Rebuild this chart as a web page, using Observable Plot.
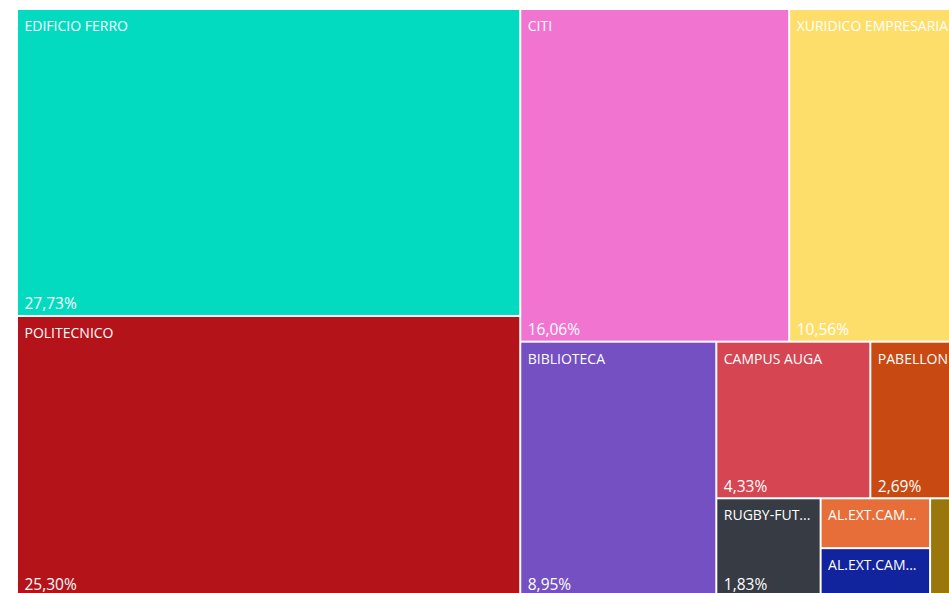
<!DOCTYPE html>
<html><head><meta charset="utf-8">
<script src="https://cdn.jsdelivr.net/npm/d3@7"></script>
<script src="https://cdn.jsdelivr.net/npm/@observablehq/plot@0.6"></script>
<style>
html,body{margin:0;padding:0;background:#fff;overflow:hidden;width:949px;height:593px}
#chart svg{overflow:hidden;display:block}
</style></head><body><div id="chart"></div>
<script>
// Tiles (share of total, %)
const names = ["EDIFICIO FERRO","POLITECNICO","CITI","XURIDICO EMPRESARIAL","BIBLIOTECA","CAMPUS AUGA","PABELLON","RUGBY-FUTBOL","AL.EXT.CAMPUS A","AL.EXT.CAMPUS B","OUTROS"];
const labels = ["EDIFICIO FERRO","POLITECNICO","CITI","XURIDICO EMPRESARIAL","BIBLIOTECA","CAMPUS AUGA","PABELLON","RUGBY-FUT...","AL.EXT.CAM...","AL.EXT.CAM...",""];
const shares = [27.73,25.30,16.06,10.56,8.95,4.33,2.69,1.83,0.98,0.94,0.63];
const showPct = [true,true,true,true,true,true,true,true,false,false,false];
const colors = ["#02DBC0","#B4131A","#F274D1","#FEDE6A","#7450C2","#D64552","#C84A12","#363B44","#E76D39","#12239E","#9A770C"];

const W = 949, H = 587;
const data = names.map((name, i) => ({name, label: labels[i], value: shares[i], pct: showPct[i]}));
const root = d3.hierarchy({children: data}).sum(d => d.value || 0).sort((a, b) => b.value - a.value);
d3.treemap().tile(d3.treemapSquarify).size([W, H]).round(false)(root);
const leaves = root.leaves().map(l => ({...l.data, x0: l.x0, x1: l.x1, y0: l.y0, y1: l.y1}));
const fmt = v => d3.format(".2f")(v).replace(".", ",") + "%";

const font = "'Open Sans', 'Noto Sans', sans-serif";
const chart = Plot.plot({
  width: 949,
  height: 593,
  margin: 0,
  x: {domain: [0, W], range: [17, 17 + W], axis: null},
  y: {domain: [0, H], range: [9, 9 + H], axis: null},
  color: {domain: names, range: colors},
  style: {fontFamily: font, background: "#fff"},
  marks: [
    Plot.rect(leaves, {x1: "x0", x2: "x1", y1: "y0", y2: "y1", fill: "name", inset: 1}),
    Plot.text(leaves, {x: "x0", y: "y0", text: "label", dx: 7, dy: 21.5, textAnchor: "start", lineAnchor: "bottom", fill: "#fff", fontSize: 14}),
    Plot.text(leaves.filter(d => d.pct), {x: "x0", y: "y1", text: d => fmt(d.value), dx: 7, dy: -7, textAnchor: "start", lineAnchor: "bottom", fill: "#fff", fontSize: 15.5})
  ]
});
document.getElementById("chart").appendChild(chart);
</script></body></html>
